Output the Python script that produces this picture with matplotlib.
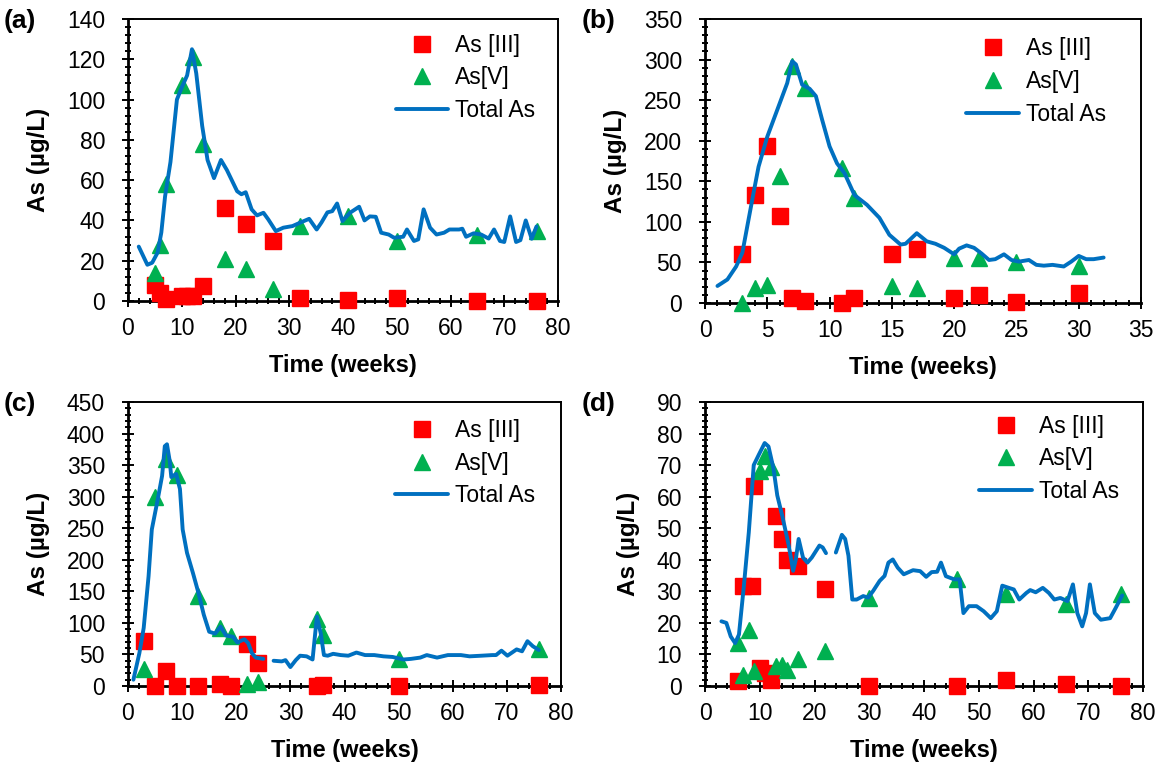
"""Arsenic speciation over time: As(III), As(V) and total As in four columns."""

import numpy as np
import matplotlib
matplotlib.use("Agg")
import matplotlib.pyplot as plt
from matplotlib.ticker import MultipleLocator

plt.rcParams["font.family"] = ["Liberation Sans", "DejaVu Sans"]

NAN = np.nan

# ---- column (a) ----
a_t3 = [5, 6, 7, 10, 11, 12, 14, 18, 22, 27, 32, 41, 50, 65, 76]
a_as3 = [8, 4, 1, 2.5, 2.5, 2.5, 7.5, 46, 38, 30, 1.5, 0.5, 1.5, 0, 0]
a_t5 = [5, 6, 7, 10, 12, 14, 18, 22, 27, 32, 41, 50, 65, 76]
a_as5 = [14, 28, 58, 107, 121, 78, 21, 16, 6, 37, 42, 30, 33, 35]
a_tt = [2, 3.6, 4.5, 5.5, 6.2, 6.9, 7.9, 9.1, 10, 11, 11.9, 12.7, 13.8, 14.8, 16,
        17.3, 18.4, 20.3, 21.1, 21.9, 23, 24, 25.2, 26.1, 27.5, 28.9, 30.6, 32.3,
        33.7, 35.1, 36, 37.1, 38, 38.9, 39.9, 41.3, 43, 44, 45, 46.1, 47.1, 48.5,
        49.5, 51.2, 51.9, 53.2, 54, 55, 56.2, 57.4, 58.8, 59.8, 61.6, 62.2, 62.9,
        64.3, 65.7, 67.1, 68.1, 69.2, 70, 71.1, 72.2, 73, 74, 75.1, 76]
a_tot = [27, 18, 19, 24, 34, 52, 69, 100, 106, 112, 125, 113, 87, 70, 61,
         70, 65, 54.5, 53, 54, 45.5, 42.5, 43.8, 40.5, 34.7, 36.4, 37.2, 39.2,
         40.8, 35.5, 39, 44, 44.6, 48.4, 39.7, 43.8, 46.8, 40, 42, 41.8, 33.9, 33,
         31.4, 31.9, 35.5, 29.8, 30.6, 45.5, 36.4, 33, 33.9, 35.5, 35.5, 35.9, 31.9,
         33.6, 33, 31, 35.5, 29.8, 29.3, 42, 29.3, 30.2, 40, 30.9, 37]

# ---- column (b) ----
b_t3 = [3, 4, 5, 6, 7, 8, 11, 12, 15, 17, 20, 22, 25, 30]
b_as3 = [60, 133, 193, 107, 6, 2, 0, 6, 60, 67, 6, 10, 1, 12]
b_t5 = [3, 4, 5, 6, 7, 8, 11, 12, 15, 17, 20, 22, 25, 30]
b_as5 = [0, 18, 22, 156, 292, 265, 166, 129, 21, 19, 56, 56, 51, 45]
b_tt = [1, 1.8, 2.5, 3, 3.4, 3.9, 4.3, 5, 5.8, 6.6, 7, 7.3, 7.8, 8.4, 8.9, 9.4,
        10, 10.6, 11.2, 12, 13, 14, 14.8, 15.7, 16.1, 17, 17.8, 18.5, 19.2, 20,
        20.4, 21, 21.6, 22.2, 22.8, 23.3, 24, 24.6, 25.2, 26, 26.6, 27.2, 27.9,
        28.8, 29.4, 30, 30.6, 31.2, 32]
b_tot = [21, 29, 45, 62, 95, 136, 168, 205, 238, 271, 298, 294, 269, 264, 255,
         226, 193, 172, 160, 133, 121, 105, 84, 72, 73, 86, 76, 73, 68, 60, 67,
         71, 68, 61, 53, 54, 60, 53, 51, 53, 47, 46, 47, 45, 51, 58, 54, 54, 56]

# ---- column (c) ----
c_t3 = [3, 5, 7, 9, 13, 17, 19, 22, 24, 35, 36, 50, 76]
c_as3 = [71, 0, 24, 0, 0, 3, 0, 66, 37, 0, 2, 0, 1]
c_t5 = [3, 5, 7, 9, 13, 17, 19, 22, 24, 35, 36, 50, 76]
c_as5 = [27, 299, 360, 334, 142, 92, 80, 3, 7, 106, 81, 43, 58]
c_tt = [1, 2.1, 2.9, 3.8, 4.4, 5.5, 6.3, 6.8, 7.2, 7.7, 8, 8.9, 9.6, 10.1, 10.9,
        12, 13, 14, 15, 16.1, 17.1, 18.1, 19.4, 20.2, 21.5, 22.2, 22.9, 23.6, 25,
        26,
        26.9, 28.4, 29.1, 30, 31, 31.8, 33, 34.1, 34.9, 35.6, 36.2, 36.9, 37.9,
        39.3, 40.7, 42.2, 43.8, 45.5, 47.2, 48.9, 50.9, 52.3, 54, 55.2, 57.1,
        59.1, 61.5, 63.1, 65.3, 67.3, 68, 69, 70.1, 71.8, 72.8, 73.8, 74.8, 75.9]
c_tot = [10, 52, 92, 174, 248, 296, 333, 380, 383, 357, 331, 336, 312, 248, 211,
         179, 148, 113, 86, 83, 94, 80, 78, 69, 74, 68, 52, 45, 43,
         NAN,
         40, 39, 41, 30, 41, 48, 47, 42, 110, 84, 49, 48, 51,
         49, 48, 53, 49, 49, 47, 46, 42, 43, 45, 49, 45,
         49, 49, 47, 48, 49, 49, 56, 48, 58, 55, 71, 63, 57]

# ---- column (d) ----
d_t3 = [6, 7, 8.5, 9, 10, 11, 12, 13, 14, 15, 17, 22, 30, 46, 55, 66, 76]
d_as3 = [1.5, 31.7, 31.8, 63.5, 5.6, 4, 2, 54, 46.5, 40, 38, 30.8, 0, 0, 2, 0.5, 0]
d_t5 = [6, 7, 8, 9, 10, 11, 12, 13, 14, 15, 17, 22, 30, 46, 55, 66, 76]
d_as5 = [13.6, 3.5, 17.9, 4.6, 68, 73, 69.5, 6.2, 6.7, 5.1, 8.5, 11, 28, 33.8,
         29, 26, 29]
d_tt = [3, 3.9, 4.7, 5.5, 6.2, 7.1, 8, 8.9, 9.8, 10.9, 11.6, 12.5, 13.2, 14.1,
        15.3, 16.1, 16.6, 17.1, 17.9, 18.7, 19.5, 20.9, 21.5, 22.1,
        23,
        23.9, 25, 25.6, 26.2, 26.9, 27.7, 28.9, 29.8, 30.7, 31.9, 32.8, 33.5,
        34.3, 35.2, 36.3, 38, 39.3, 40.4, 41.4, 42.4, 43.1, 44, 45.5, 46.5, 47.2,
        48.2, 49.6, 50.9, 52.2, 53.3, 54.3, 55.5, 56.4, 57.4, 58.7, 59.4, 60.4,
        61.7, 62.8, 63.8, 64.9, 66.2, 67.2, 68, 68.9, 69.6, 70.3, 71.2, 72.3, 74,
        75, 76.2]
d_tot = [20.5, 20, 15.7, 13.6, 16.3, 31.7, 48.7, 70, 73.2, 77, 75.9, 69, 60.4, 54,
         44.5, 36.5, 40.2, 46.6, 40.7, 39.1, 40.7, 44.5, 43.9, 42.1,
         NAN,
         42.3, 47.9, 46.6, 41.3, 27.4, 27.4, 28.5, 28, 30.1, 33.3, 34.9, 39.1,
         40.1, 37.5, 35.4, 36.7, 36.4, 34.6, 36.1, 36.2, 39.1, 34.8, 33.8, 33.8,
         23.1, 25.3, 25.3, 23.7, 21.5, 23.7, 31.8, 31.1, 30.6, 27.4, 29.5, 30.4,
         29.7, 31.1, 29.5, 27.4, 27.9, 26.9, 32.2, 23.1, 18.9, 23.1, 32.2, 23.1,
         21, 21.5, 24.7, 28.7]

RED = "#FF0000"
GREEN = "#00B050"
BLUE = "#0070C0"

W, H = 1164, 770


def px_rect(left, right, top, bottom):
    return [left / W, 1 - bottom / H, (right - left) / W, (bottom - top) / H]


# label, series, axes box in px (l, r, t, b), x (max, major, minor),
# y (max, major, minor), legend anchor, panel-label x in px
panels = [
    ("(a)", (a_t3, a_as3, a_t5, a_as5, a_tt, a_tot),
     (128, 558, 19, 301), (80, 10, 2), (140, 20, 4), (0.947, 0.948), 4),
    ("(b)", (b_t3, b_as3, b_t5, b_as5, b_tt, b_tot),
     (705, 1141, 19, 303), (35, 5, 1), (350, 50, 10), (0.92, 0.935), 582),
    ("(c)", (c_t3, c_as3, c_t5, c_as5, c_tt, c_tot),
     (128, 561, 402, 686), (80, 10, 2), (450, 50, 10), (0.94, 0.94), 4),
    ("(d)", (d_t3, d_as3, d_t5, d_as5, d_tt, d_tot),
     (705, 1143, 402, 686), (80, 10, 2), (90, 10, 2), (0.945, 0.955), 582),
]

fig = plt.figure(figsize=(W / 100, H / 100), dpi=100)

for label, series, box, xspec, yspec, anchor, lab_x in panels:
    t3, as3, t5, as5, tt, tot = series
    xmax, xmaj, xmin = xspec
    ymax, ymaj, ymin = yspec

    ax = fig.add_axes(px_rect(*box))
    ax.plot(t3, as3, ls="none", marker="s", ms=11, color=RED, mec=RED,
            clip_on=False, zorder=3, label="As [III]")
    ax.plot(t5, as5, ls="none", marker="^", ms=11, color=GREEN, mec=GREEN,
            clip_on=False, zorder=4, label="As[V]")
    ax.plot(tt, tot, color=BLUE, lw=2.8, zorder=5, label="Total As",
            solid_joinstyle="round", solid_capstyle="round")

    ax.set_xlim(0, xmax)
    ax.set_ylim(0, ymax)
    ax.xaxis.set_major_locator(MultipleLocator(xmaj))
    ax.xaxis.set_minor_locator(MultipleLocator(xmin))
    ax.yaxis.set_major_locator(MultipleLocator(ymaj))
    ax.yaxis.set_minor_locator(MultipleLocator(ymin))
    ax.tick_params(which="both", direction="inout", top=False, right=False,
                   labelsize=16.5, width=1.4)
    ax.tick_params(axis="x", pad=7)
    ax.tick_params(axis="y", pad=12)
    ax.tick_params(which="major", length=9)
    ax.tick_params(which="minor", length=5)
    for side in ("left", "bottom"):
        ax.spines[side].set_linewidth(2.0)
    for side in ("top", "right"):
        ax.spines[side].set_linewidth(1.4)

    ax.set_xlabel("Time (weeks)", fontsize=17, fontweight="bold", labelpad=10)
    ax.set_ylabel("As (µg/L)", fontsize=17.5, fontweight="bold", labelpad=12)

    ax.legend(loc="upper right", bbox_to_anchor=anchor, frameon=False,
              fontsize=16.5, numpoints=1, handlelength=2.3, handletextpad=0.3,
              labelspacing=0.42, borderpad=0, borderaxespad=0)

    fig.text(lab_x / W, 1 - (box[2] - 10) / H, label, fontsize=19,
             fontweight="bold", ha="left", va="top")

fig.savefig("out.png", dpi=100)
